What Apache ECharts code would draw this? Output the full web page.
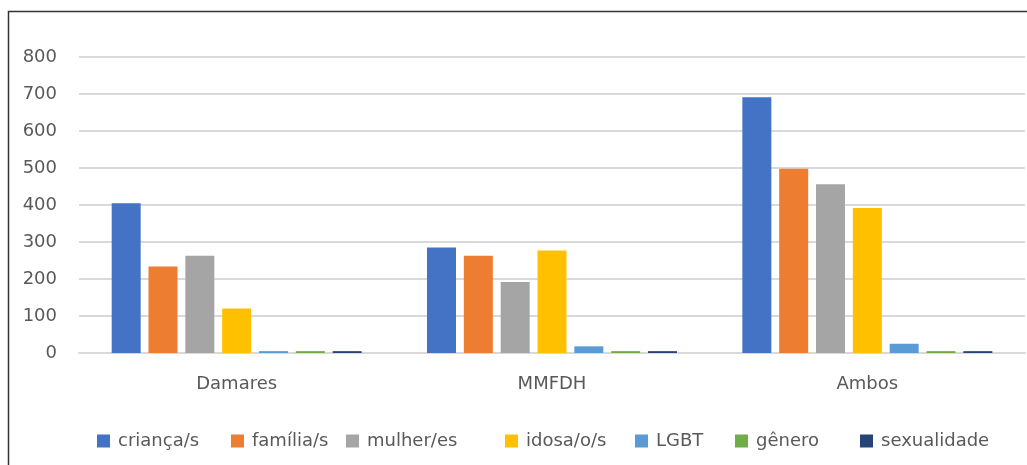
<!DOCTYPE html>
<html>
<head>
<meta charset="utf-8">
<script src="https://cdn.jsdelivr.net/npm/echarts@6/dist/echarts.min.js"></script>
<style>
  html, body { margin: 0; padding: 0; background: #fff; }
  #chart { width: 1027px; height: 465px; }
</style>
</head>
<body>
<div id="chart"></div>
<script>
// data
var categories = ['Damares', 'MMFDH', 'Ambos'];
var seriesNames = ['criança/s', 'família/s', 'mulher/es', 'idosa/o/s', 'LGBT', 'gênero', 'sexualidade'];
var crianca = [405, 285, 691];
var familia = [234, 263, 498];
var mulher = [263, 192, 456];
var idosa = [120, 277, 392];
var lgbt = [5, 18, 25];
var genero = [5, 5, 5];
var sexualidade = [5, 5, 5];
var colors = ['#4472C4', '#ED7D31', '#A5A5A5', '#FFC000', '#5B9BD5', '#70AD47', '#264478'];
var legendLeft = [92, 226, 341, 500, 630, 730, 855];

var values = [crianca, familia, mulher, idosa, lgbt, genero, sexualidade];
var font = 'DejaVu Sans';

var chart = echarts.init(document.getElementById('chart'));
var series = seriesNames.map(function (name, i) {
    return {
        name: name,
        type: 'bar',
        data: values[i],
        barWidth: 29,
        barGap: '27%',
        itemStyle: { color: colors[i] }
    };
});

// one legend per item so the spacing follows the original
var legends = seriesNames.map(function (name, i) {
    return {
        data: [name],
        left: legendLeft[i],
        top: 427,
        itemWidth: 13,
        itemHeight: 13,
        itemGap: 0,
        icon: 'rect',
        textStyle: { color: '#595959', fontSize: 18, fontFamily: font, padding: [0, 0, 0, 3] }
    };
});

var option = {
    animation: false,
    color: colors,
    graphic: [{
        type: 'rect',
        shape: { x: 8.5, y: 11.5, width: 1100, height: 600 },
        style: { fill: 'none', stroke: '#333', lineWidth: 1.5 },
        silent: true
    }],
    grid: { left: 79, right: 2, top: 57, bottom: 112 },
    legend: legends,
    xAxis: {
        type: 'category',
        data: categories,
        axisLine: { lineStyle: { color: '#D9D9D9', width: 2 } },
        axisTick: { show: false },
        axisLabel: { color: '#595959', fontSize: 18, fontFamily: font, margin: 22 }
    },
    yAxis: {
        type: 'value',
        min: 0,
        max: 800,
        interval: 100,
        axisLine: { show: false },
        axisTick: { show: false },
        splitLine: { lineStyle: { color: '#D9D9D9', width: 2 } },
        axisLabel: { color: '#595959', fontSize: 18, fontFamily: font, margin: 22 }
    },
    series: series
};
chart.setOption(option);
</script>
</body>
</html>
